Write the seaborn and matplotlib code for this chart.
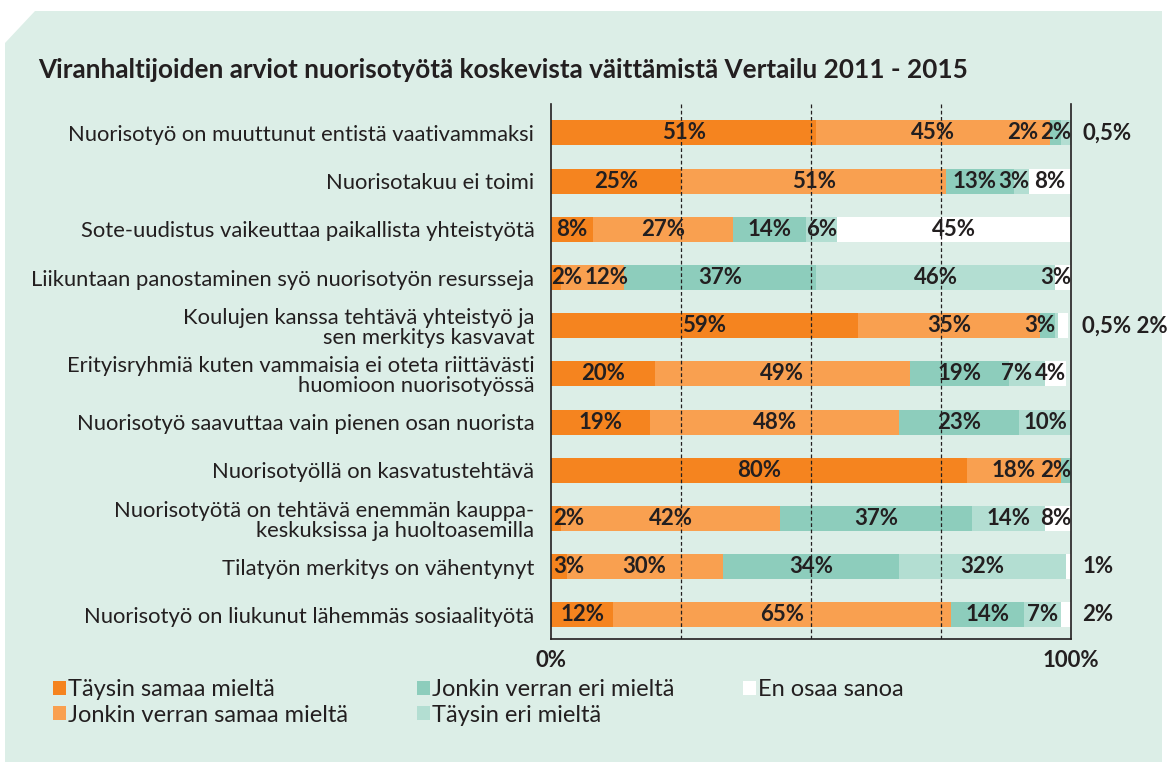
import matplotlib
matplotlib.use("Agg")
import matplotlib.pyplot as plt
from matplotlib.patches import Polygon, Patch
import seaborn as sns
import pandas as pd

# --- Data ---
statements = [
    "Nuorisotyö on muuttunut entistä vaativammaksi",
    "Nuorisotakuu ei toimi",
    "Sote-uudistus vaikeuttaa paikallista yhteistyötä",
    "Liikuntaan panostaminen syö nuorisotyön resursseja",
    "Koulujen kanssa tehtävä yhteistyö ja\nsen merkitys kasvavat",
    "Erityisryhmiä kuten vammaisia ei oteta riittävästi\nhuomioon nuorisotyössä",
    "Nuorisotyö saavuttaa vain pienen osan nuorista",
    "Nuorisotyöllä on kasvatustehtävä",
    "Nuorisotyötä on tehtävä enemmän kauppa-\nkeskuksissa ja huoltoasemilla",
    "Tilatyön merkitys on vähentynyt",
    "Nuorisotyö on liukunut lähemmäs sosiaalityötä",
]
categories = [
    "Täysin samaa mieltä",
    "Jonkin verran samaa mieltä",
    "Jonkin verran eri mieltä",
    "Täysin eri mieltä",
    "En osaa sanoa",
]
taysin_samaa = [51, 25, 8, 2, 59, 20, 19, 80, 2, 3, 12]
jonkin_samaa = [45, 51, 27, 12, 35, 49, 48, 18, 42, 30, 65]
jonkin_eri = [2, 13, 14, 37, 3, 19, 23, 2, 37, 34, 14]
taysin_eri = [2, 3, 6, 46, 0.5, 7, 10, 0, 14, 32, 7]
en_osaa = [0.5, 8, 45, 3, 2, 4, 0, 0, 8, 1, 2]

colors = ["#F5841F", "#F9A050", "#8DCDBC", "#B3DED2", "#FFFFFF"]
BG = "#DCEEE7"
INK = "#231F20"

df = pd.DataFrame({
    "statement": statements,
    categories[0]: taysin_samaa,
    categories[1]: jonkin_samaa,
    categories[2]: jonkin_eri,
    categories[3]: taysin_eri,
    categories[4]: en_osaa,
})
cum = df[categories].cumsum(axis=1)
cum["statement"] = statements


def pct(v):
    return f"{v:g}%".replace(".", ",")


# --- Style ---
sns.set_style("white")
plt.rcParams["font.family"] = ["Lato", "DejaVu Sans"]
plt.rcParams["text.color"] = INK

W, H = 1171, 767
fig = plt.figure(figsize=(W / 100, H / 100), dpi=100, facecolor="white")

# mint panel with the cut top-left corner (behind everything)
panel = [(5, 43), (35, 11), (1162, 11), (1162, 762), (5, 762)]
fig.patches.append(Polygon([(x / W, 1 - y / H) for x, y in panel], closed=True,
                           transform=fig.transFigure, facecolor=BG,
                           edgecolor="none", zorder=-10))

ax = fig.add_axes([551 / W, 1 - 639 / H, 520 / W, (639 - 104) / H])
ax.set_facecolor("none")

# stacked bars: draw cumulative totals, widest first
for cat, col in reversed(list(zip(categories, colors))):
    sns.barplot(data=cum, x=cat, y="statement", orient="h", color=col,
                saturation=1, width=0.52, edgecolor="none", ax=ax)

ax.set_xlim(0, 100)
ax.set_ylim(len(statements) - 0.5, -0.6)
ax.set_xlabel("")
ax.set_ylabel("")

for x in (25, 50, 75):
    ax.axvline(x, color=INK, lw=0.9, ls=(0, (3, 2)), zorder=3)

for side in ("left", "right", "bottom"):
    ax.spines[side].set_visible(True)
    ax.spines[side].set_color(INK)
    ax.spines[side].set_linewidth(1.2)
ax.spines["top"].set_visible(False)

ax.set_xticks([0, 100])
ax.set_xticklabels(["0%", "100%"], fontsize=16, fontweight="bold", color=INK)
ax.tick_params(axis="x", length=0, pad=8)
ax.tick_params(axis="y", length=0, pad=12)
for lab in ax.get_yticklabels():
    lab.set_fontsize(15.8)
    lab.set_color(INK)
    lab.set_linespacing(1.0)

# --- Value labels ---
LABEL_FS = 16
GAP = 0.4
renderer = fig.canvas.get_renderer()


def label_width(txt):
    # width of a value label in % of the axis
    t = ax.text(0, 0, txt, fontsize=LABEL_FS, fontweight="bold")
    w = t.get_window_extent(renderer).width / ax.bbox.width * 100
    t.remove()
    return w


vals = df[categories].to_numpy()
for i, row in enumerate(vals):
    start = 0
    labels, outside = [], []
    for j, v in enumerate(row):
        if v <= 0:
            continue
        if v < 1 or (j == 4 and v < 3):
            outside.append(pct(v))
        else:
            end = min(start + v, 100)
            txt = pct(v)
            w = label_width(txt)
            if v < 5 and start == 0:
                left = start + 0.4
            elif v < 5:
                left = end - w
            else:
                left = (start + end) / 2 - w / 2
            labels.append([left, w, txt])
        start += v
    # push labels apart: right-to-left, then left-to-right
    limit = 100
    for lab in reversed(labels):
        if lab[0] + lab[1] > limit:
            lab[0] = limit - lab[1]
        limit = lab[0] - GAP
    prev = 0
    for lab in labels:
        if lab[0] < prev:
            lab[0] = prev
        prev = lab[0] + lab[1] + GAP
    for left, w, txt in labels:
        ax.text(left + w / 2, i, txt, ha="center", va="center",
                fontsize=LABEL_FS, fontweight="bold", color=INK, zorder=5)
    if outside:
        ax.text(102.2, i, " ".join(outside), ha="left", va="center",
                fontsize=LABEL_FS, fontweight="bold", color=INK, clip_on=False)

# --- Title ---
fig.text(38 / W, 1 - 70 / H,
         "Viranhaltijoiden arviot nuorisotyötä koskevista väittämistä Vertailu 2011 - 2015",
         fontsize=18.8, fontweight="bold", color=INK, va="center", ha="left")

# --- Legend ---
handles = [Patch(facecolor=c, edgecolor="none") for c in colors]
fig.legend(handles, categories, loc="upper left",
           bbox_to_anchor=(53 / W, 1 - 679 / H), ncol=3, frameon=False,
           fontsize=17, handlelength=0.55, handleheight=0.55,
           handletextpad=0.1, labelspacing=0.2, columnspacing=2.9,
           borderpad=0, borderaxespad=0)

fig.savefig("out.png", dpi=100, facecolor="white")
